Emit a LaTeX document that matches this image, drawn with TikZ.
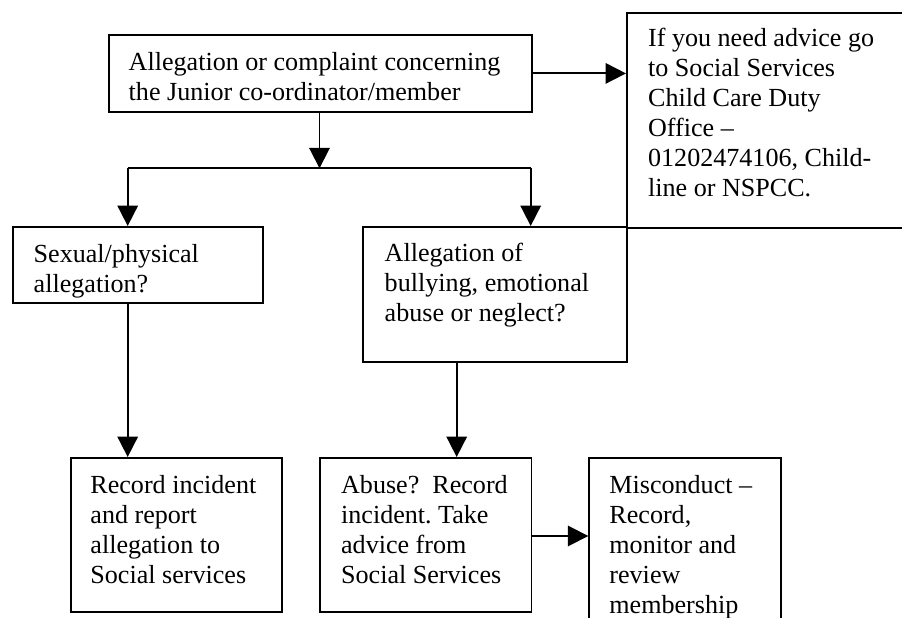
\documentclass[tikz,border=0pt]{standalone}
\usepackage{fontspec}
\setmainfont{Liberation Serif}
\usetikzlibrary{arrows.meta,calc}
\def\px{0.46pt}
\tikzset{
  box/.style={draw, line width=0.85pt, inner sep=0pt, anchor=north west, rectangle},
  txt/.style={anchor=north west, inner sep=0pt, align=left, font=\fontsize{12}{13.8}\selectfont\frenchspacing},
  arr/.style={line width=0.85pt, -{Triangle[length=9.4pt,width=9.4pt]}},
  ln/.style={line width=0.85pt},
}
\begin{document}
\begin{tikzpicture}[x=0.46pt,y=-0.46pt]
\useasboundingbox (0,0) rectangle (902,618);
\clip (0,0) rectangle (902,618);
% boxes
\node[box, minimum width=422.4*\px, minimum height=76.4*\px] (top) at (108.3,34.3) {};
\node[box, minimum width=304*\px, minimum height=215.3*\px] (advice) at (626,11.7) {};
\node[box, minimum width=250*\px, minimum height=76*\px] (sexual) at (12,226) {};
\node[box, minimum width=264*\px, minimum height=135*\px] (bully) at (362,226) {};
\node[box, minimum width=211.4*\px, minimum height=154*\px] (record) at (70,457) {};
\node[box, minimum width=211.5*\px, minimum height=154*\px] (abuse) at (319,457) {};
\node[box, minimum width=191.7*\px, minimum height=190*\px] (misc) at (588.3,457) {};
% texts
\node[txt] (toptxt) at (128.3,52.2) {Allegation or complaint concerning\\the Junior co-ordinator/member};
\node[txt] (advtxt) at (647.7,27.8) {If you need advice go\\to Social Services\\Child Care Duty\\Office --\\01202474106, Child-\\line or NSPCC.};
\node[txt] (sextxt) at (33.3,243.9) {Sexual/physical\\allegation?};
\node[txt] (bultxt) at (384.3,242.9) {Allegation of\\bullying, emotional\\abuse or neglect?};
\node[txt] (rectxt) at (90,474.5) {Record incident\\and report\\allegation to\\Social services};
\node[txt] (abutxt) at (340.7,474.5) {Abuse?\hspace{0.5em}Record\\incident. Take\\advice from\\Social Services};
\node[txt] (mistxt) at (609,474.5) {Misconduct --\\Record,\\monitor and\\review\\membership};
% junction coordinates
\coordinate (jm) at (319.5,168.3);
\coordinate (jl) at (127.7,168.3);
\coordinate (jr) at (530.7,168.3);
\coordinate (bd) at (456.7,361);
\coordinate (am) at (530.5,536);
% connectors
\draw[arr] (top.east) -- (top.east -| advice.west);
\draw[arr] (top.south -| jm) -- (jm);
\draw[ln] (jl) -- (jr);
\draw[arr] (jl) -- (jl |- sexual.north);
\draw[arr] (jr) -- (jr |- bully.north);
\draw[arr] (sexual.south -| jl) -- (record.north -| jl);
\draw[arr] (bd) -- (bd |- abuse.north);
\draw[arr] (am) -- (am -| misc.west);
\end{tikzpicture}
\end{document}
